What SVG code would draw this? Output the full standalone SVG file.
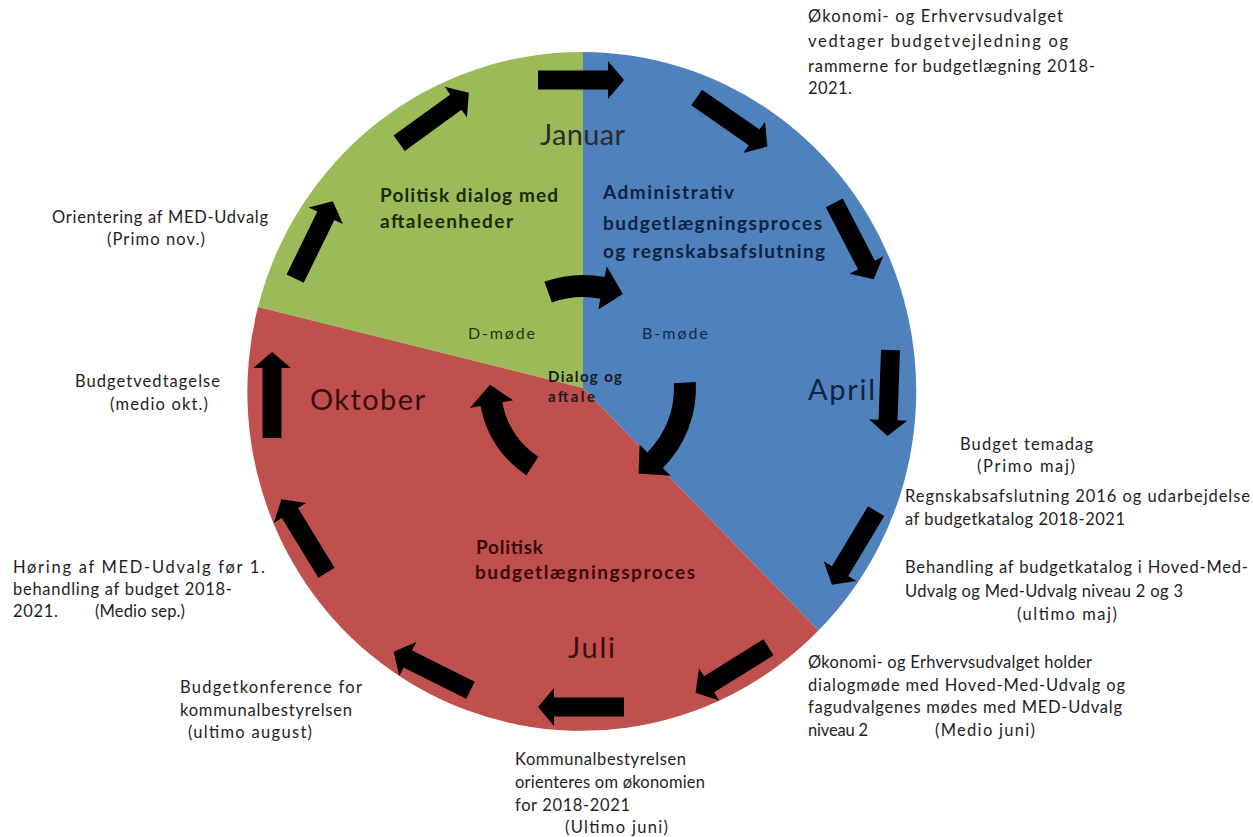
<svg xmlns="http://www.w3.org/2000/svg" width="1253" height="837" viewBox="0 0 1253 837">
<style>
.note{font-family:Lato,"Liberation Sans",sans-serif;font-size:16.5px;fill:#1e1e1e}
.big{font-family:Lato,"Liberation Sans",sans-serif;font-size:29px}
.hd{font-family:Lato,"Liberation Sans",sans-serif;font-size:19px;font-weight:bold}
.sm{font-family:Lato,"Liberation Sans",sans-serif;font-size:16px}
.smb{font-family:Lato,"Liberation Sans",sans-serif;font-size:15px;font-weight:bold;fill:#1a1a1a}
.arrow{fill:#000}
</style>
<defs>
<path id="arr" d="M-43,-9.5 L27,-9.5 L27,-19 L43,0 L27,19 L27,9.5 L-43,9.5 Z"/>
</defs>
<rect width="1253" height="837" fill="#fff"/>

<g id="sector-politisk-dialog">
<path d="M583,388 L583,52 A334,339 0 0,0 258,307 Z" fill="#9bbb59"/>
<text class="hd" fill="#1c2a0c"><tspan x="380" y="202" textLength="178">Politisk dialog med</tspan><tspan x="380" y="228" textLength="133">aftaleenheder</tspan></text>
<text class="sm" x="468" y="339" fill="#22360e" textLength="67">D-møde</text>
</g>

<g id="sector-administrativ">
<path d="M583,388 L583,52 A334,339 0 0,1 818.5,630.6 Z" fill="#4f81bd"/>
<text class="hd" fill="#0e2340"><tspan x="603" y="199" textLength="131">Administrativ</tspan><tspan x="603" y="230" textLength="219">budgetlægningsproces</tspan><tspan x="603" y="258" textLength="222">og regnskabsafslutning</tspan></text>
<text class="sm" x="642" y="339" fill="#13284a" textLength="66">B-møde</text>
<text class="big" x="808" y="400" fill="#0f2441" textLength="67">April</text>
</g>

<g id="sector-politisk-budget">
<path d="M583,388 L818.5,630.6 A334,339 0 0,1 258,307 Z" fill="#c0504d"/>
<text class="big" x="310" y="410" fill="#3a0d0d" textLength="115">Oktober</text>
<text class="hd" fill="#3b0a0a"><tspan x="476" y="554" textLength="67">Politisk</tspan><tspan x="475" y="579" textLength="220">budgetlægningsproces</tspan></text>
<text class="big" x="568" y="658" fill="#3a0d0d" textLength="47">Juli</text>
</g>

<g id="label-januar">
<text class="big" x="540" y="145" fill="#2b2b2b" textLength="85">Januar</text>
</g>
<g id="label-dialog">
<text class="smb"><tspan x="548" y="382" textLength="74">Dialog og</tspan><tspan x="548" y="402" textLength="47">aftale</tspan></text>
</g>

<g id="connectors" class="arrow">
<use href="#arr" transform="translate(581,80)"/>
<use href="#arr" transform="translate(732,122) rotate(34.7)"/>
<use href="#arr" transform="translate(854,241) rotate(62.7)"/>
<use href="#arr" transform="translate(889,393) rotate(92)"/>
<use href="#arr" transform="translate(854,548) rotate(121)"/>
<use href="#arr" transform="translate(732,670) rotate(148)"/>
<use href="#arr" transform="translate(581,707) rotate(180)"/>
<use href="#arr" transform="translate(432,671) rotate(206.6)"/>
<use href="#arr" transform="translate(304,536) rotate(238.5)"/>
<use href="#arr" transform="translate(272,395) rotate(270)"/>
<use href="#arr" transform="translate(314,240) rotate(296)"/>
<use href="#arr" transform="translate(434,118) rotate(324)"/>
<path d="M544.4,281.8 A113,113 0 0,1 604.6,277.1 L606.7,266.3 L622.9,294.1 L598.3,309.5 L600.4,298.7 A91,91 0 0,0 551.9,302.5 Z"/>
<path d="M695.8,382.1 A113,113 0 0,1 662.9,467.9 L670.7,475.7 L638.6,473.6 L639.6,444.6 L647.4,452.4 A91,91 0 0,0 673.9,383.2 Z"/>
<path d="M526.4,475.2 A104,104 0 0,1 480.6,406.1 L469.8,408 L490.1,384.8 L513.1,400.3 L502.3,402.2 A82,82 0 0,0 538.3,456.8 Z"/>
</g>

<g id="note-okonomi-rammer">
<text class="note"><tspan x="808" y="22" textLength="255">Økonomi- og Erhvervsudvalget</tspan><tspan x="808" y="47" textLength="260">vedtager budgetvejledning og</tspan><tspan x="808" y="72" textLength="287">rammerne for budgetlægning  2018-</tspan><tspan x="808" y="94" textLength="44">2021.</tspan></text>
</g>
<g id="note-orientering">
<text class="note"><tspan x="52" y="223" textLength="216">Orientering af MED-Udvalg</tspan><tspan x="107" y="245" textLength="98">(Primo nov.)</tspan></text>
</g>
<g id="note-budgetvedtagelse">
<text class="note"><tspan x="75" y="387" textLength="145">Budgetvedtagelse</tspan><tspan x="110" y="410" textLength="98">(medio okt.)</tspan></text>
</g>
<g id="note-horing">
<text class="note"><tspan x="13" y="573" textLength="252">Høring af MED-Udvalg før 1.</tspan><tspan x="13" y="595" textLength="219">behandling af budget 2018-</tspan><tspan x="13" y="617" textLength="45">2021.</tspan><tspan x="95" y="617" textLength="90">(Medio sep.)</tspan></text>
</g>
<g id="note-budgetkonference">
<text class="note"><tspan x="180" y="693" textLength="182">Budgetkonference for</tspan><tspan x="180" y="716" textLength="172">kommunalbestyrelsen</tspan><tspan x="188" y="738" textLength="124">(ultimo august)</tspan></text>
</g>
<g id="note-kommunalbestyrelsen">
<text class="note"><tspan x="515" y="765" textLength="171">Kommunalbestyrelsen</tspan><tspan x="515" y="788" textLength="190">orienteres om økonomien</tspan><tspan x="515" y="811" textLength="115">for 2018-2021</tspan><tspan x="565" y="833" textLength="103">(Ultimo juni)</tspan></text>
</g>
<g id="note-dialogmode">
<text class="note"><tspan x="808" y="668" textLength="284">Økonomi- og Erhvervsudvalget holder</tspan><tspan x="808" y="691" textLength="317">dialogmøde med Hoved-Med-Udvalg og</tspan><tspan x="808" y="713" textLength="314">fagudvalgenes mødes med MED-Udvalg</tspan><tspan x="808" y="736" textLength="60">niveau 2</tspan><tspan x="935" y="736" textLength="100">(Medio juni)</tspan></text>
</g>
<g id="note-temadag">
<text class="note"><tspan x="960" y="450" textLength="133">Budget temadag</tspan><tspan x="977" y="472" textLength="98">(Primo maj)</tspan></text>
</g>
<g id="note-regnskab">
<text class="note"><tspan x="905" y="502" textLength="345">Regnskabsafslutning 2016 og udarbejdelse</tspan><tspan x="905" y="525" textLength="220">af budgetkatalog 2018-2021</tspan></text>
</g>
<g id="note-behandling">
<text class="note"><tspan x="905" y="573" textLength="343">Behandling af budgetkatalog i Hoved-Med-</tspan><tspan x="905" y="597" textLength="278">Udvalg og Med-Udvalg niveau 2 og 3</tspan><tspan x="1017" y="620" textLength="100">(ultimo maj)</tspan></text>
</g>
</svg>
